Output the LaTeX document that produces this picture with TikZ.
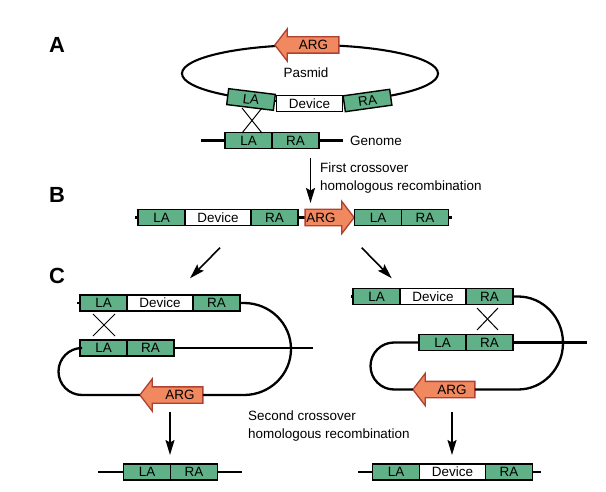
\documentclass[tikz,border=0pt]{standalone}
\usepackage{fontspec}
\setmainfont{Liberation Sans}
\usetikzlibrary{shapes.arrows,shapes.geometric,arrows.meta,calc}
\definecolor{gfill}{RGB}{96,176,136}
\definecolor{afill}{RGB}{240,136,96}
\definecolor{aline}{RGB}{176,64,48}
\tikzset{
  seg/.style={draw=black, line width=1.4bp, minimum height=16bp, inner sep=0pt, outer sep=0pt,
              font=\fontsize{13.5}{15}\selectfont},
  gseg/.style={seg, fill=gfill, minimum width=47bp},
  devbox/.style={seg, fill=white, minimum width=66bp},
  argshape/.style={single arrow, draw=aline, fill=afill, line width=1.3bp,
              single arrow head extend=8bp, single arrow tip angle=105,
              inner xsep=0pt, inner ysep=0pt, text height=15bp, text depth=0pt, outer sep=0pt},
  argleft/.style={argshape, shape border rotate=180},
  txt/.style={font=\fontsize{13.5}{15}\selectfont, inner sep=0pt},
  letter/.style={font=\bfseries\fontsize{22}{24}\selectfont, inner sep=0pt, anchor=base},
  dna/.style={line width=2.3bp},
  loopline/.style={line width=2.3bp},
  xline/.style={line width=1bp},
  arr/.style={line width=1.6bp, -{Stealth[length=15bp,width=9bp,inset=2.5bp]}}
}
\begin{document}
\begin{tikzpicture}[x=1bp,y=-1bp]
\fill[white] (0,0) rectangle (606,492);
\useasboundingbox (0,0) rectangle (606,492);

% panel letters
\node[letter] (lA) at (57,53) {A};
\node[letter] (lB) at (57,203) {B};
\node[letter] (lC) at (57,283) {C};

% ---------------- Panel A ----------------
\node[ellipse, draw, line width=2.1bp, minimum width=256bp, minimum height=57bp, inner sep=0pt] (plasmid) at (310,73.5) {};
\node[txt] (pasmid) at (306,73) {Pasmid};
\node[argleft, minimum height=64bp] (argA) at (310,45) {};
\node[txt] (argAt) at (313.5,45) {ARG};

\node[devbox] (devA) at (309.5,103.5) {Device};
\node[gseg, rotate=-7] (laA1) at (251,99.5) {LA};
\node[gseg, rotate=8] (raA1) at (367.5,100.5) {RA};

\coordinate (gA1) at (201,140.5);
\coordinate (gA2) at (343,140.5);
\draw[dna] (gA1) -- (gA2);
\node[gseg] (laA2) at (248.5,140.5) {LA};
\node[gseg] (raA2) at (295.5,140.5) {RA};
\node[txt, anchor=base west] (genome) at (350,146) {Genome};

\draw[xline] (242,108) -- (262,133);
\draw[xline] (262,108) -- (242,133);

% arrow A -> B
\coordinate (ab1) at (310.5,158);
\coordinate (ab2) at (310.5,203);
\draw[arr] (ab1) -- (ab2);
\node[txt, anchor=base west] (first1) at (320,173) {First crossover};
\node[txt, anchor=base west] (first2) at (320,190.5) {homologous recombination};

% ---------------- Panel B ----------------
\coordinate (bL) at (135,217.5);
\coordinate (bR) at (452,217.5);
\draw[dna] (bL) -- (bR);
\node[gseg] (laB1) at (161.5,217.5) {LA};
\node[devbox] (devB) at (218,217.5) {Device};
\node[gseg] (raB1) at (274.5,217.5) {RA};
\node[argshape, minimum height=49bp] (argB) at (326.5,217.5) {};
\node[txt] (argBt) at (321,217.5) {ARG};
\node[gseg] (laB2) at (378,217.5) {LA};
\node[gseg] (raB2) at (425,217.5) {RA};

% diagonal arrows
\coordinate (dl1) at (220,247.7);
\coordinate (dl2) at (190,278.3);
\coordinate (dr1) at (361.7,247.7);
\coordinate (dr2) at (391.7,278.3);
\draw[arr] (dl1) -- (dl2);
\draw[arr] (dr1) -- (dr2);

% ---------------- Panel C left ----------------
\coordinate (cLt) at (77,303);
\draw[dna] (cLt) -- (80,303);
\node[gseg] (laC1) at (103.5,303) {LA};
\node[devbox] (devC1) at (160,303) {Device};
\node[gseg] (raC1) at (216.5,303) {RA};
\node[gseg] (laC2) at (103.5,348) {LA};
\node[gseg] (raC2) at (150.5,348) {RA};
\coordinate (cLe) at (313,348);
\node[argleft, minimum height=63bp] (argC1) at (174.5,395) {};
\node[txt] (argC1t) at (180,395) {ARG};

\draw[loopline] (raC1.east) -- ++(4,0) arc[start angle=-90,end angle=90,x radius=47,y radius=46] -- (argC1.tail);
\draw[loopline] (argC1.tip) -- (82,395) arc[start angle=90,end angle=270,radius=23.5] -- (laC2.west);
\draw[loopline] (raC2.east) -- (cLe);
\draw[xline] (93,314) -- (115,336);
\draw[xline] (115,314) -- (93,336);

% ---------------- Panel C right ----------------
\coordinate (cRt) at (351,296.5);
\draw[dna] (cRt) -- (353,296.5);
\node[gseg] (laR1) at (376.5,296.5) {LA};
\node[devbox] (devR1) at (433,296.5) {Device};
\node[gseg] (raR1) at (489.5,296.5) {RA};
\node[gseg] (laR2) at (442.5,342.5) {LA};
\node[gseg] (raR2) at (489.5,342.5) {RA};
\coordinate (cRe) at (587,342.5);
\node[argleft, minimum height=62bp] (argR) at (447,389.5) {};
\node[txt] (argRt) at (452,389.5) {ARG};

\draw[loopline] (raR1.east) -- ++(5,0) arc[start angle=-90,end angle=90,x radius=45,y radius=46.5] -- (argR.tail);
\draw[loopline] (argR.tip) -- (394,389.5) arc[start angle=90,end angle=270,radius=23.5] -- (laR2.west);
\draw[loopline] (raR2.east) -- (cRe);
\draw[xline] (477,308) -- (498,330);
\draw[xline] (498,308) -- (477,330);

% down arrows and text
\coordinate (dd1) at (170,412);
\coordinate (dd2) at (170,455);
\coordinate (de1) at (452,412);
\coordinate (de2) at (452,455);
\draw[arr] (dd1) -- (dd2);
\draw[arr] (de1) -- (de2);
\node[txt, anchor=base west] (second1) at (248,420.5) {Second crossover};
\node[txt, anchor=base west] (second2) at (248,438.5) {homologous recombination};

% bottom rows
\coordinate (eL1) at (98,472);
\coordinate (eL2) at (242,472);
\draw[dna] (eL1) -- (eL2);
\node[gseg] (laD1) at (147,472) {LA};
\node[gseg] (raD1) at (194,472) {RA};

\coordinate (eR1) at (358,472);
\coordinate (eR2) at (541,472);
\draw[dna] (eR1) -- (eR2);
\node[gseg] (laD2) at (396,472) {LA};
\node[devbox] (devD2) at (452.5,472) {Device};
\node[gseg] (raD2) at (509,472) {RA};
\end{tikzpicture}
\end{document}
